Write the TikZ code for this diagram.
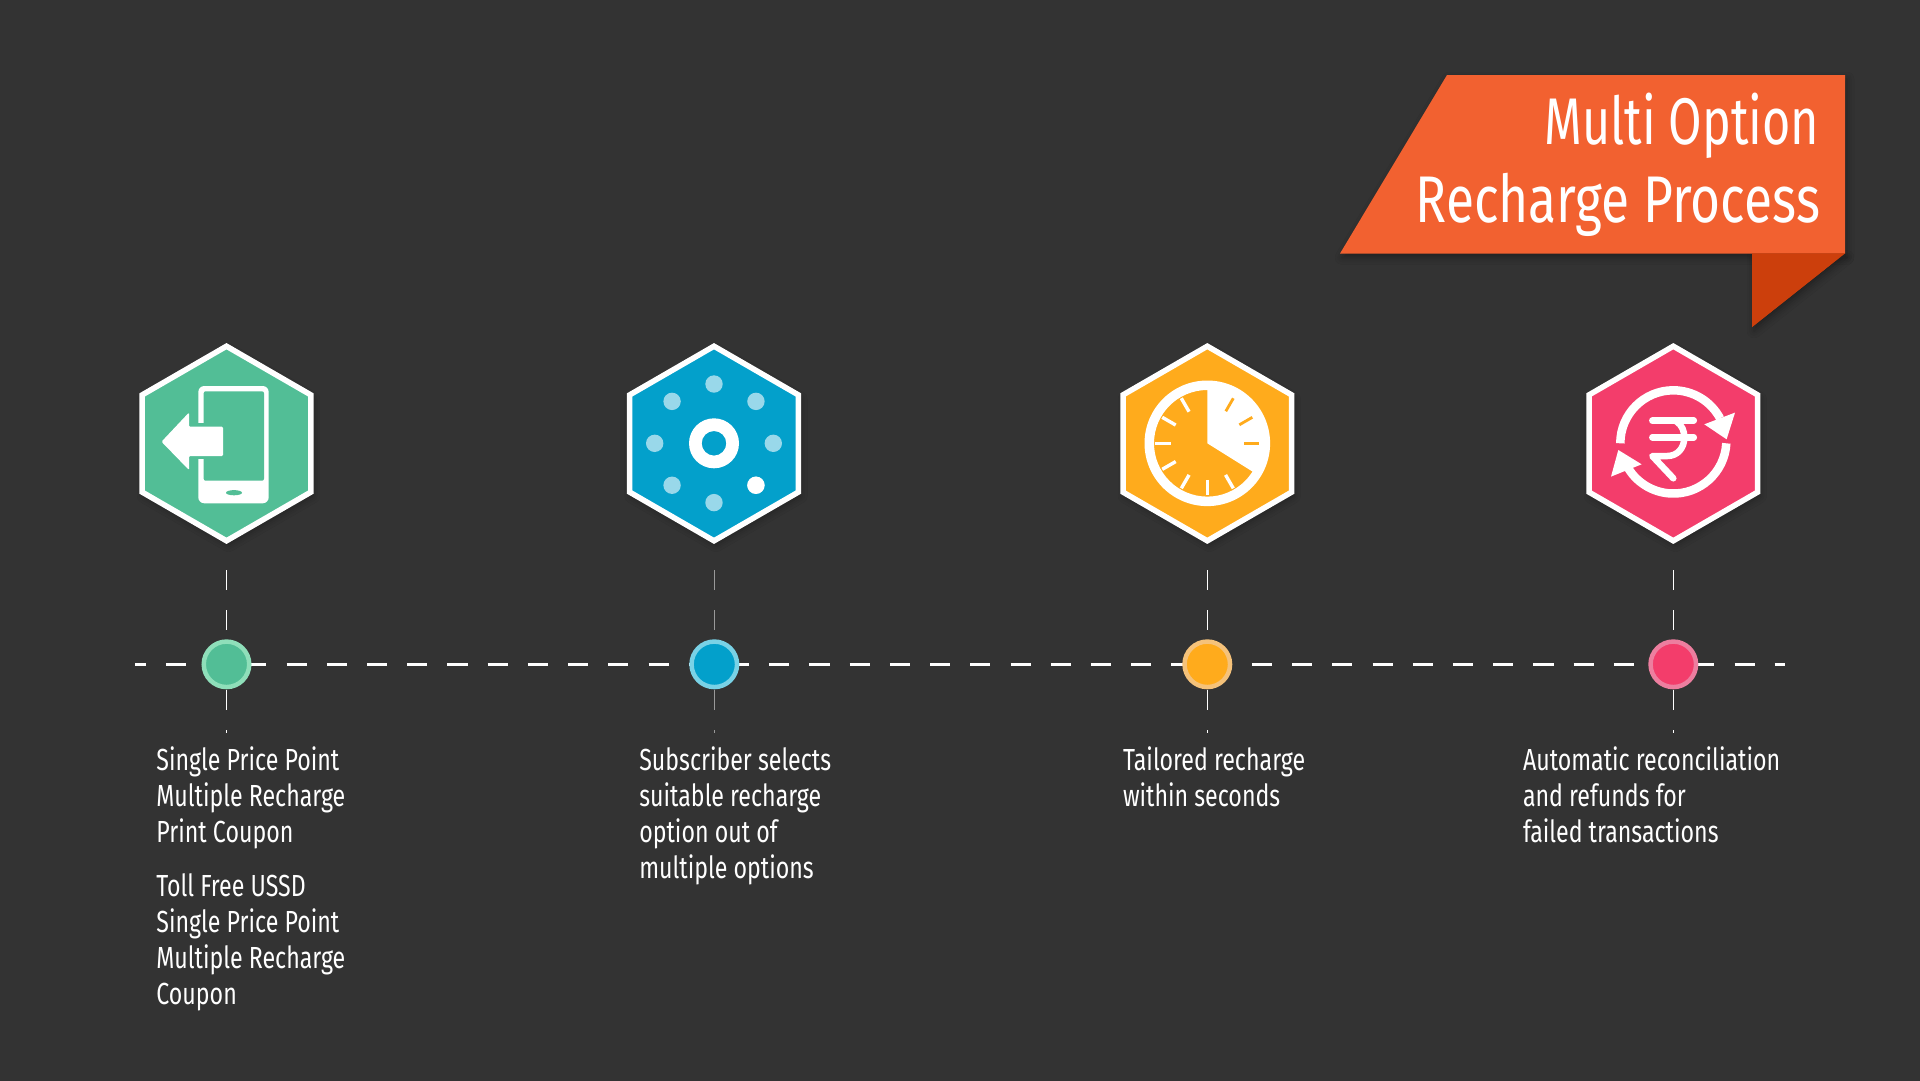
\documentclass[tikz,border=0pt]{standalone}
\usepackage{fontspec}
\usetikzlibrary{shapes.geometric,shadows.blur}
\newfontfamily\bodyf[FakeStretch=0.76]{Fira Sans}
\newfontfamily\titlefa[FakeStretch=0.735]{Fira Sans}
\newfontfamily\titlefb[FakeStretch=0.78]{Fira Sans}
\definecolor{bg}{HTML}{333333}
\definecolor{cgreen}{HTML}{52BE96}
\definecolor{rgreen}{HTML}{8FDFBA}
\definecolor{cblue}{HTML}{03A0CB}
\definecolor{rblue}{HTML}{79D2E6}
\definecolor{dotblue}{HTML}{99D8EA}
\definecolor{cyel}{HTML}{FFAB1C}
\definecolor{ryel}{HTML}{F5C27A}
\definecolor{cpink}{HTML}{F33D6B}
\definecolor{rpink}{HTML}{ED7E9F}
\definecolor{ribbon}{HTML}{F26130}
\definecolor{ribbond}{HTML}{CC3F0C}
\tikzset{
  softshadow/.style={blur shadow={shadow xshift=2pt,shadow yshift=-4pt,shadow blur radius=7pt,shadow opacity=35}},
  hexnode/.style={regular polygon,regular polygon sides=6,shape border rotate=30,minimum size=194.6pt,inner sep=0pt,outer sep=0pt,draw=white,line width=5.5pt,miter limit=10,softshadow},
  dotnode/.style={circle,minimum size=45.5pt,inner sep=0pt,outer sep=0pt,line width=4.5pt},
  hline/.style={white,line width=3.6pt,dash pattern=on 20.11pt off 20.11pt,dash phase=9.3pt},
  vline/.style={line width=1pt,dash pattern=on 20pt off 20pt},
  bodytext/.style={anchor=north west,inner sep=0pt,outer sep=0pt,align=left,text=white,font=\bodyf\fontsize{30.5}{36}\selectfont},
  titletext/.style={anchor=base east,inner sep=0pt,outer sep=0pt,text=white},
  iconline/.style={white,line cap=round,line join=round,line width=6.5pt},
}
\begin{document}
\begin{tikzpicture}[x=1pt,y=-1pt]
\useasboundingbox (0,0) rectangle (1920,1080);
\fill[bg] (-2,-2) rectangle (1922,1082);

% ribbon
\fill[ribbond,softshadow] (1752,253.3) -- (1845,253.3) -- (1752,327) -- cycle;
\fill[ribbon,softshadow] (1447,75) -- (1845,75) -- (1845,253.5) -- (1340,253.5) -- cycle;
\fill[ribbond] (1752,253.3) -- (1845,253.3) -- (1752,327) -- cycle;
\node[titletext,font=\titlefa\fontsize{66}{78}\selectfont] (t1) at (1819,144) {Multi Option};
\node[titletext,font=\titlefb\fontsize{66}{78}\selectfont] (t2) at (1820,222) {Recharge Process};

% timeline
\coordinate (hs) at (135,664.3);
\coordinate (he) at (1785,664.3);
\draw[hline] (hs) -- (he);

\foreach \n/\x/\c in {1/226.5/white,2/714.3/white!50!bg,3/1207.3/white,4/1673.3/white}{
  \coordinate (vt\n) at (\x,570);
  \coordinate (vb\n) at (\x,733);
  \draw[vline,draw=\c] (vt\n) -- (vb\n);
}

% markers
\node[dotnode,draw=rgreen,fill=cgreen] (d1) at (226.5,664.3) {};
\node[dotnode,draw=rblue,fill=cblue] (d2) at (714.3,664.3) {};
\node[dotnode,draw=ryel,fill=cyel] (d3) at (1207.3,664.3) {};
\node[dotnode,draw=rpink,fill=cpink] (d4) at (1673.3,664.3) {};

% hexagons
\node[hexnode,fill=cgreen] (h1) at (226.5,443.5) {};
\node[hexnode,fill=cblue] (h2) at (714,443.5) {};
\node[hexnode,fill=cyel] (h3) at (1207.3,443.5) {};
\node[hexnode,fill=cpink] (h4) at (1673.3,443.5) {};

% phone icon
\fill[white,rounded corners=6pt] (198.3,386) rectangle (268.7,503.3);
\fill[cgreen,rounded corners=2pt] (203.7,391.3) rectangle (264,480.7);
\fill[cgreen] (234,492.7) ellipse [x radius=8,y radius=2.6];
\fill[cgreen] (190,423.3) rectangle (204,459.3);
\fill[white,rounded corners=1.2pt] (161.5,441.7) -- (189,412.5) -- (189,426.7) -- (223,426.7) -- (223,456) -- (189,456) -- (189,470) -- cycle;

% gear-dots icon
\begin{scope}[shift={(714,443.3)}]
  \fill[white,even odd rule] (0,0) circle [radius=25] (0,0) circle [radius=12.3];
  \foreach \a in {0,45,90,135,180,225,270,315}{
    \fill[dotblue] (\a:59.3) circle [radius=8.7];
  }
  \fill[white] (45:59.3) circle [radius=8.7];
\end{scope}

% clock icon
\begin{scope}[shift={(1207.3,443.3)}]
  \fill[white,even odd rule] (0,0) circle [radius=62.8] (0,0) circle [radius=53.3];
  \fill[white] (0,0) -- (270:55) arc [start angle=270,end angle=392,radius=55] -- cycle;
  \foreach \a in {60,90,120,150,180,210,240}{
    \draw[white,line width=3.4pt] (\a:36.5) -- (\a:52);
  }
  \foreach \a in {300,330,0}{
    \draw[cyel,line width=2.8pt] (\a:37) -- (\a:52);
  }
\end{scope}

% rupee refresh icon
\begin{scope}[shift={(1673.3,443.3)}]
  \draw[white,line width=8.5pt] (-53,0) arc [start angle=180,end angle=332,radius=53];
  \draw[white,line width=8.5pt] (53,0) arc [start angle=3,end angle=152,radius=53];
  \fill[white] (61.7,-30.7) -- (53.3,-4) -- (31,-19) -- cycle;
  \fill[white] (-62.3,33.3) -- (-55,6.7) -- (-31.7,21) -- cycle;
  \draw[iconline] (-21,-22.7) -- (20.5,-22.7);
  \draw[iconline] (-21,-6) -- (20.5,-6);
  \draw[iconline] (3,-22) .. controls (9,-18) and (11,-12) .. (11,-6) .. controls (11,5) and (4,12.7) .. (-6,12.7) -- (-21,12.7) -- (0,35);
\end{scope}

% labels
\node[bodytext] (l1a) at (156.4,746.3) {Single Price Point\\Multiple Recharge\\Print Coupon};
\node[bodytext] (l1b) at (156.4,873.2) {Toll Free USSD\\Single Price Point\\Multiple Recharge\\Coupon};
\node[bodytext] (l2) at (639.3,746.3) {Subscriber selects\\suitable recharge\\option out of\\multiple options};
\node[bodytext] (l3) at (1123,746.3) {Tailored recharge\\within seconds};
\node[bodytext] (l4) at (1523,746.3) {Automatic reconciliation\\and refunds for\\failed transactions};
\end{tikzpicture}
\end{document}
